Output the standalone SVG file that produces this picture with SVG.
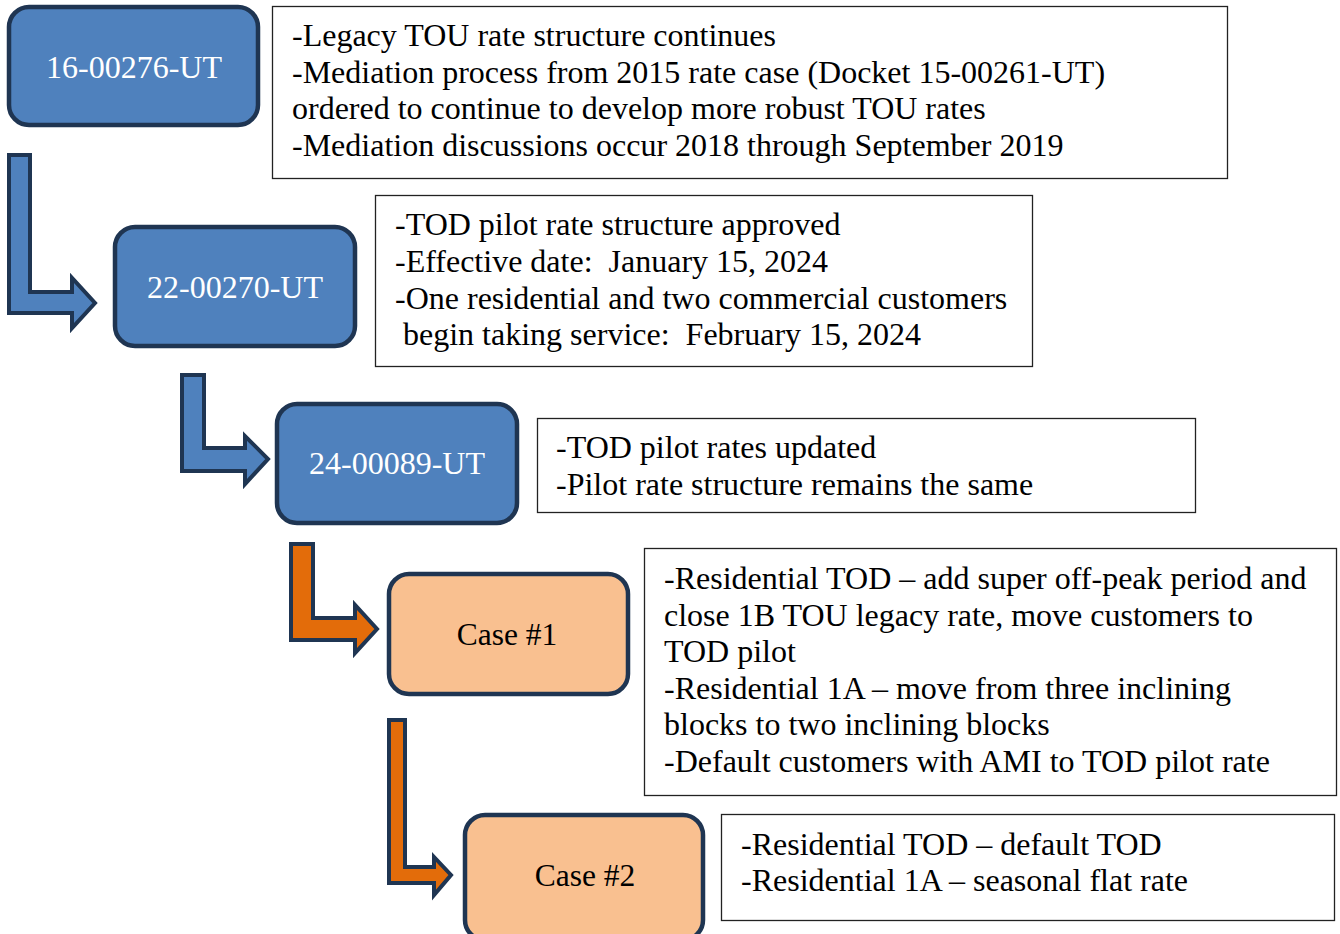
<svg xmlns="http://www.w3.org/2000/svg" width="1340" height="934" viewBox="0 0 1340 934">
  <style>
    .node-blue { fill: #4F81BD; stroke: #1F3552; stroke-width: 4.5; }
    .node-peach { fill: #F9C090; stroke: #1F3552; stroke-width: 4.5; }
    .label-w { font-family: "Liberation Serif", "Times New Roman", serif; font-size: 32px; fill: #FFFFFF; text-anchor: middle; }
    .label-b { font-family: "Liberation Serif", "Times New Roman", serif; font-size: 31.5px; fill: #000000; text-anchor: middle; }
    .note { fill: #FFFFFF; stroke: #222222; stroke-width: 1.3; }
    .note-text { font-family: "Liberation Serif", "Times New Roman", serif; font-size: 32px; fill: #000000; }
    .arrow-blue { fill: #4F81BD; stroke: #1F3552; stroke-width: 4; stroke-linejoin: miter; }
    .arrow-orange { fill: #E36C0A; stroke: #1F3552; stroke-width: 4; stroke-linejoin: miter; }
  </style>

  <!-- bent arrows linking the dockets -->
  <g id="connectors">
    <path class="arrow-blue" d="M9,155 H30 V292 H72 V278 L95,303 L72,328 V313 H9 Z"/>
    <path class="arrow-blue" d="M182,375 H204 V448 H245 V436 L268,459 L245,484 V471 H182 Z"/>
    <path class="arrow-orange" d="M291,544 H313 V618 H355 V605 L377,629 L355,653 V640 H291 Z"/>
    <path class="arrow-orange" d="M389,720 H405 V867 H434 V857 L451,875 L434,895 V883 H389 Z"/>
  </g>

  <g id="node-16-00276">
    <rect class="node-blue" x="9" y="7" width="249" height="118" rx="20"/>
    <text class="label-w" x="134" y="78">16-00276-UT</text>
  </g>
  <g id="note-16-00276">
    <rect class="note" x="272.5" y="6.5" width="955" height="172"/>
    <text class="note-text" x="292" y="46">-Legacy TOU rate structure continues</text>
    <text class="note-text" x="292" y="83">-Mediation process from 2015 rate case (Docket 15-00261-UT)</text>
    <text class="note-text" x="292" y="119">ordered to continue to develop more robust TOU rates</text>
    <text class="note-text" x="292" y="156">-Mediation discussions occur 2018 through September 2019</text>
  </g>

  <g id="node-22-00270">
    <rect class="node-blue" x="115" y="227" width="240" height="119" rx="20"/>
    <text class="label-w" x="235" y="298">22-00270-UT</text>
  </g>
  <g id="note-22-00270">
    <rect class="note" x="375.5" y="195.5" width="657" height="171"/>
    <text class="note-text" x="395" y="235">-TOD pilot rate structure approved</text>
    <text class="note-text" x="395" y="272" xml:space="preserve">-Effective date:  January 15, 2024</text>
    <text class="note-text" x="395" y="309">-One residential and two commercial customers</text>
    <text class="note-text" x="395" y="345" xml:space="preserve"> begin taking service:  February 15, 2024</text>
  </g>

  <g id="node-24-00089">
    <rect class="node-blue" x="277" y="404" width="240" height="119" rx="20"/>
    <text class="label-w" x="397" y="474">24-00089-UT</text>
  </g>
  <g id="note-24-00089">
    <rect class="note" x="537.5" y="418.5" width="658" height="94"/>
    <text class="note-text" x="556" y="458">-TOD pilot rates updated</text>
    <text class="note-text" x="556" y="495">-Pilot rate structure remains the same</text>
  </g>

  <g id="node-case-1">
    <rect class="node-peach" x="389" y="574" width="239" height="120" rx="20"/>
    <text class="label-b" x="507" y="645">Case #1</text>
  </g>
  <g id="note-case-1">
    <rect class="note" x="644.5" y="548.5" width="692" height="247"/>
    <text class="note-text" x="664" y="589">-Residential TOD – add super off-peak period and</text>
    <text class="note-text" x="664" y="626">close 1B TOU legacy rate, move customers to</text>
    <text class="note-text" x="664" y="662">TOD pilot</text>
    <text class="note-text" x="664" y="699">-Residential 1A – move from three inclining</text>
    <text class="note-text" x="664" y="735">blocks to two inclining blocks</text>
    <text class="note-text" x="664" y="772">-Default customers with AMI to TOD pilot rate</text>
  </g>

  <g id="node-case-2">
    <rect class="node-peach" x="465" y="815" width="238" height="125" rx="20"/>
    <text class="label-b" x="585" y="886">Case #2</text>
  </g>
  <g id="note-case-2">
    <rect class="note" x="721.5" y="814.5" width="613" height="106"/>
    <text class="note-text" x="741" y="855">-Residential TOD – default TOD</text>
    <text class="note-text" x="741" y="891">-Residential 1A – seasonal flat rate</text>
  </g>
</svg>
